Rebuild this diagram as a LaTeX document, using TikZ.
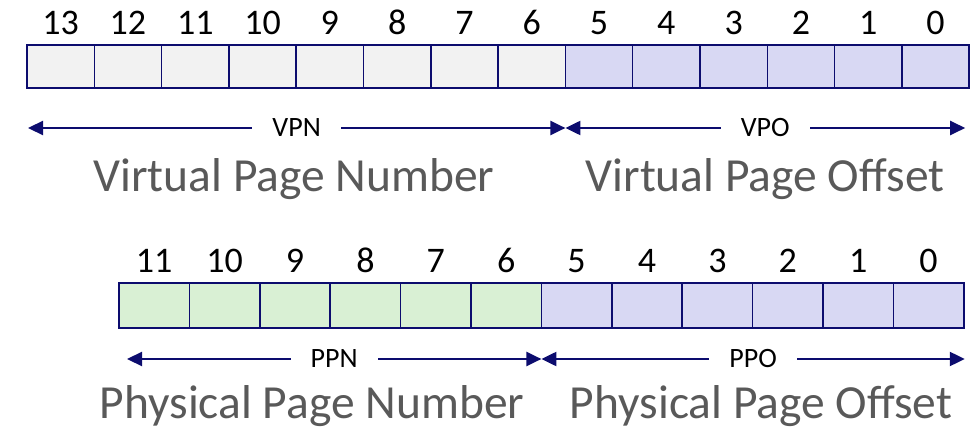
\documentclass[tikz,border=0pt]{standalone}
\usepackage{fontspec}
\setmainfont{Carlito}
\usetikzlibrary{arrows.meta,positioning}

\definecolor{bitnavy}{RGB}{12,12,110}
\definecolor{vpnfill}{RGB}{242,242,242}
\definecolor{offfill}{RGB}{216,216,243}
\definecolor{ppnfill}{RGB}{217,240,212}
\definecolor{fieldgray}{RGB}{89,89,89}

\begin{document}
\begin{tikzpicture}[x=1pt,y=-1pt,>={Triangle[length=15pt,width=14pt]},
    vbit/.style={draw=bitnavy,line width=1.5pt,minimum width=67.3pt,minimum height=43pt,inner sep=0pt,outer sep=0pt},
    pbit/.style={vbit,minimum width=70.4pt,minimum height=45pt},
    bitnum/.style={anchor=base,font=\fontsize{36}{36}\selectfont},
    span/.style={<->,draw=bitnavy,line width=2.2pt},
    spanlabel/.style={fill=white,inner xsep=20pt,inner ysep=0pt,font=\fontsize{28}{28}\selectfont},
    field/.style={anchor=base,text=fieldgray,font=\fontsize{47.5}{47.5}\selectfont}]
  \useasboundingbox (0,0) rectangle (975,441);

  % virtual address, 14 bits
  \node[vbit,fill=vpnfill] (v13) at (60.65,66.5) {};
  \node[bitnum] (vn13) at ([yshift=10pt]v13.north) {13};
  \foreach \i [remember=\i as \prev (initially 13)] in {12,...,6} {
    \node[vbit,fill=vpnfill,right=0pt of v\prev] (v\i) {};
    \node[bitnum] (vn\i) at ([yshift=10pt]v\i.north) {\i};
  }
  \foreach \i [remember=\i as \prev (initially 6)] in {5,...,0} {
    \node[vbit,fill=offfill,right=0pt of v\prev] (v\i) {};
    \node[bitnum] (vn\i) at ([yshift=10pt]v\i.north) {\i};
  }

  \coordinate (vl) at ([xshift=1pt,yshift=-40pt]v13.south west);
  \coordinate (vm) at ([yshift=-40pt]v6.south east);
  \coordinate (vr) at ([xshift=-4pt,yshift=-40pt]v0.south east);
  \draw[span] (vl) -- node[spanlabel] (vpn) {VPN} (vm);
  \draw[span] (vm) -- node[spanlabel] (vpo) {VPO} (vr);

  \node[field] (vpntext) at (294,191) {Virtual Page Number};
  \node[field] (vpotext) at (765,191) {Virtual Page Offset};

  % physical address, 12 bits
  \node[pbit,fill=ppnfill] (p11) at (154.2,305.5) {};
  \node[bitnum] (pn11) at ([yshift=11pt]p11.north) {11};
  \foreach \i [remember=\i as \prev (initially 11)] in {10,...,6} {
    \node[pbit,fill=ppnfill,right=0pt of p\prev] (p\i) {};
    \node[bitnum] (pn\i) at ([yshift=11pt]p\i.north) {\i};
  }
  \foreach \i [remember=\i as \prev (initially 6)] in {5,...,0} {
    \node[pbit,fill=offfill,right=0pt of p\prev] (p\i) {};
    \node[bitnum] (pn\i) at ([yshift=11pt]p\i.north) {\i};
  }

  \coordinate (pl) at ([xshift=8pt,yshift=-31pt]p11.south west);
  \coordinate (pm) at ([yshift=-31pt]p6.south east);
  \coordinate (pr) at ([xshift=1pt,yshift=-31pt]p0.south east);
  \draw[span] (pl) -- node[spanlabel] (ppn) {PPN} (pm);
  \draw[span] (pm) -- node[spanlabel] (ppo) {PPO} (pr);

  \node[field] (ppntext) at (312,418) {Physical Page Number};
  \node[field] (ppotext) at (761,418) {Physical Page Offset};
\end{tikzpicture}
\end{document}
